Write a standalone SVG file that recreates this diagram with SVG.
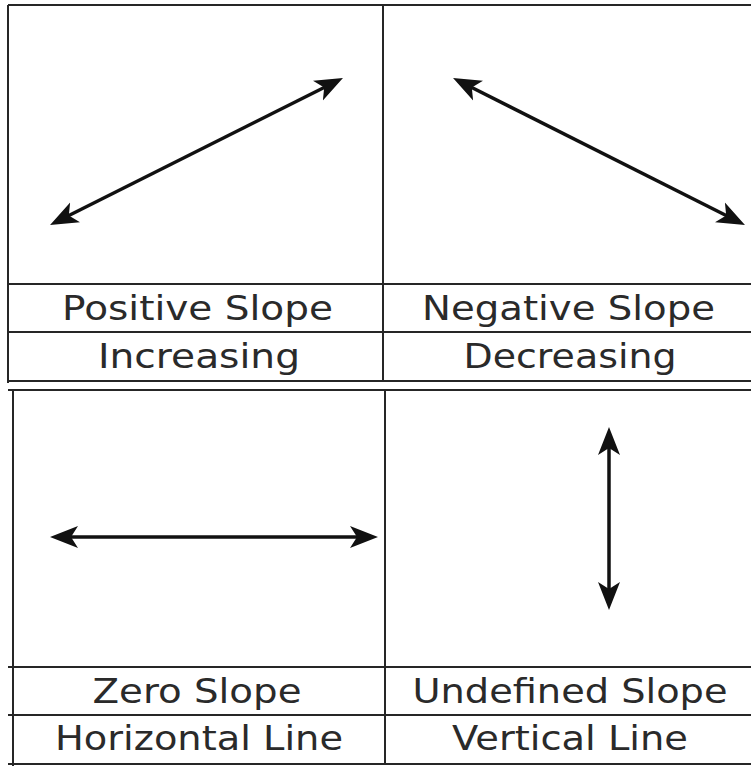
<svg xmlns="http://www.w3.org/2000/svg" width="751" height="766" viewBox="0 0 751 766">
<style>
.grid line{stroke:#262626;stroke-width:2}
.arrow{stroke:#111;stroke-width:3.5;fill:none;marker-start:url(#ah);marker-end:url(#ah)}
text{font-family:"DejaVu Sans","Verdana",sans-serif;font-size:34px;fill:#2a2a2a;text-anchor:middle}
</style>
<defs>
<marker id="ah" markerUnits="userSpaceOnUse" markerWidth="30" markerHeight="24" refX="22" refY="12" orient="auto-start-reverse" viewBox="0 0 30 24">
<path d="M28 12 L0 1 L7 12 L0 23 Z" fill="#111"/>
</marker>
</defs>
<rect width="751" height="766" fill="#fff"/>
<g id="grid" class="grid">
<line x1="8" y1="5" x2="751" y2="5" stroke-width="3"/>
<line x1="8" y1="5" x2="8" y2="383"/>
<line x1="383" y1="5" x2="383" y2="381"/>
<line x1="8" y1="284" x2="751" y2="284"/>
<line x1="8" y1="332" x2="751" y2="332"/>
<line x1="8" y1="381" x2="751" y2="381"/>
<line x1="8" y1="390" x2="751" y2="390" stroke-width="3"/>
<line x1="13" y1="390" x2="13" y2="766"/>
<line x1="385" y1="390" x2="385" y2="764"/>
<line x1="8" y1="667" x2="751" y2="667"/>
<line x1="8" y1="715" x2="751" y2="715"/>
<line x1="8" y1="764" x2="751" y2="764"/>
</g>
<g id="connectors">
<line class="arrow" x1="55.4" y1="222.3" x2="337.6" y2="80.7"/>
<line class="arrow" x1="458.4" y1="80.7" x2="739.6" y2="222.3"/>
<line class="arrow" x1="56" y1="537" x2="372" y2="537"/>
<line class="arrow" x1="609" y1="433" x2="609" y2="604"/>
</g>
<g id="positive"><text x="197.5" y="320" textLength="271" lengthAdjust="spacingAndGlyphs">Positive Slope</text><text x="199" y="368" textLength="202" lengthAdjust="spacingAndGlyphs">Increasing</text></g>
<g id="negative"><text x="568.5" y="320" textLength="293" lengthAdjust="spacingAndGlyphs">Negative Slope</text><text x="570" y="368" textLength="213" lengthAdjust="spacingAndGlyphs">Decreasing</text></g>
<g id="zero"><text x="197" y="703" textLength="209" lengthAdjust="spacingAndGlyphs">Zero Slope</text><text x="199" y="750" textLength="288" lengthAdjust="spacingAndGlyphs">Horizontal Line</text></g>
<g id="undefined"><text x="570" y="703" textLength="315" lengthAdjust="spacingAndGlyphs">Undefined Slope</text><text x="570" y="750" textLength="236" lengthAdjust="spacingAndGlyphs">Vertical Line</text></g>
</svg>
